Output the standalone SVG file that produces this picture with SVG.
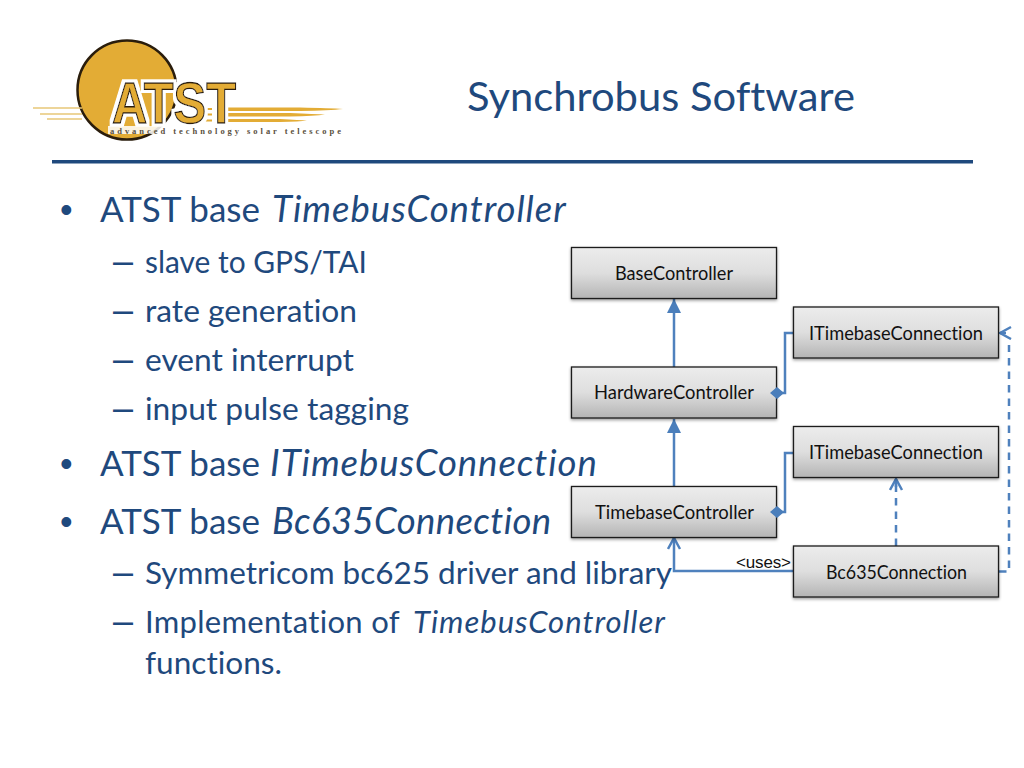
<svg xmlns="http://www.w3.org/2000/svg" width="1024" height="768" viewBox="0 0 1024 768">
<style>
text{font-family:Lato,"Liberation Sans",sans-serif;font-variant-ligatures:none;font-kerning:normal}
.b{font-size:35px;fill:#1f497d}
.i{font-size:36.500px;font-style:italic}
.s{font-size:31px;fill:#1f497d}
.m{font-family:"Liberation Sans",sans-serif;fill:#1f497d}
.n{font-size:18.300px;fill:#111;text-anchor:middle}
.box{fill:url(#g);stroke:#1c1c1c;stroke-width:1.3;filter:url(#sh)}
.c{fill:none;stroke:#4f81bd;stroke-width:2.500}
.d{stroke-dasharray:7.500 6}
.ray{fill:#e3ac35}
.ln{stroke:#e8c878;stroke-width:1.500}
</style>
<defs>
<linearGradient id="g" x1="0" y1="0" x2="0" y2="1"><stop offset="0" stop-color="#ececec"/><stop offset=".5" stop-color="#dedede"/><stop offset="1" stop-color="#b4b4b4"/></linearGradient>
<filter id="sh" x="-5%" y="-10%" width="110%" height="130%"><feDropShadow dx="0" dy="1.500" stdDeviation="1.500" flood-color="#000" flood-opacity=".4"/></filter>
<filter id="halo" x="-5%" y="-10%" width="110%" height="120%"><feMorphology in="SourceAlpha" operator="dilate" radius="2.500" result="a"/><feFlood flood-color="#fff"/><feComposite in2="a" operator="in"/><feMerge><feMergeNode/><feMergeNode in="SourceGraphic"/></feMerge></filter>
<marker id="tri" markerUnits="userSpaceOnUse" markerWidth="14" markerHeight="16" refX="14" refY="7" orient="auto"><path d="M0 0L14 7L0 14Z" fill="#4a7ebb"/></marker>
<marker id="open" markerUnits="userSpaceOnUse" markerWidth="14" markerHeight="16" refX="12" refY="7" orient="auto"><path d="M1 1L12 7L1 13" fill="none" stroke="#4f81bd" stroke-width="2.500"/></marker>
</defs>
<rect width="1024" height="768" fill="#fff"/>
<g id="logo">
<circle cx="127" cy="90" r="49.500" fill="#e3ac35" stroke="#2a1d0c" stroke-width="2.500"/>
<path d="M33 108H82M40 114H82M47 119H82" class="ln"/>
<path d="M228 107.500L300 107.500Q330 108 343 109Q330 110.500 300 111L228 111ZM228 113L290 113Q315 114 325 114.500Q315 116 290 116.500L228 116.500ZM228 119L280 119Q300 120 307 120.500Q300 121.500 280 122L228 122ZM205 108h7v2h-7ZM205 113.500h7v2h-7ZM205 119.500h7v2h-7Z" class="ray"/>
<rect x="108" y="126" width="60" height="8" fill="#fff" opacity=".85"/>
<text x="112" y="122.500" font-size="57" font-weight="700" textLength="124" lengthAdjust="spacingAndGlyphs" fill="#e3ac35" stroke="#2a1d0c" stroke-width="1.300" filter="url(#halo)" style="font-family:'Liberation Sans',sans-serif">ATST</text>
<text x="110" y="133.500" font-size="8.500" font-weight="700" textLength="231" style="font-family:'Liberation Serif',serif" fill="#5a5040">advanced technology solar telescope</text>
</g>
<text id="title" x="467" y="111" font-size="41.500" textLength="388" lengthAdjust="spacingAndGlyphs" fill="#1f497d">Synchrobus Software</text>
<rect id="rule" x="52" y="160" width="921" height="3.500" fill="#1f497d"/>
<g id="text">
<text x="60" y="222" class="m" font-size="36">•</text>
<text x="100" y="222" class="b">ATST base <tspan x="272" class="i" letter-spacing="1">TimebusController</tspan></text>
<text x="113" y="273" class="m" font-size="36">–</text><text x="145" y="273" class="s" textLength="222" lengthAdjust="spacingAndGlyphs">slave to GPS/TAI</text>
<text x="113" y="322" class="m" font-size="36">–</text><text x="145" y="322" class="s" textLength="212" lengthAdjust="spacingAndGlyphs">rate generation</text>
<text x="113" y="371" class="m" font-size="36">–</text><text x="145" y="371" class="s" textLength="209" lengthAdjust="spacingAndGlyphs">event interrupt</text>
<text x="113" y="420" class="m" font-size="36">–</text><text x="145" y="420" class="s" textLength="264" lengthAdjust="spacingAndGlyphs">input pulse tagging</text>
<text x="60" y="476" class="m" font-size="36">•</text>
<text x="100" y="476" class="b">ATST base <tspan x="270" class="i" letter-spacing=".95">ITimebusConnection</tspan></text>
<text x="60" y="534" class="m" font-size="36">•</text>
<text x="100" y="534" class="b">ATST base <tspan x="272" class="i" letter-spacing=".4">Bc635Connection</tspan></text>
<text x="113" y="584" class="m" font-size="36">–</text><text x="145" y="584" class="s" textLength="527" lengthAdjust="spacingAndGlyphs">Symmetricom bc625 driver and library</text>
<text x="113" y="633" class="m" font-size="36">–</text><text x="145" y="633" class="s" letter-spacing=".3">Implementation of <tspan x="413" font-style="italic" letter-spacing="1">TimebusController</tspan></text>
<text x="145" y="674" class="s" textLength="137" lengthAdjust="spacingAndGlyphs">functions.</text>
</g>
<g id="connectors">
<path class="c" d="M674 367V299" marker-end="url(#tri)"/>
<path class="c" d="M674 486V419" marker-end="url(#tri)"/>
<path class="c" d="M793 571H674V538" marker-end="url(#open)"/>
<path class="c" d="M793 333H785V393H777"/>
<path class="c" d="M793 453H785V512H777"/>
<path class="c d" d="M896 546V481"/>
<path class="c" d="M896 487V479" marker-end="url(#open)"/>
<path class="c d" d="M999 571.500H1009V345"/>
<path class="c" d="M1006 333H1000" marker-end="url(#open)"/>
<text x="736" y="568" font-size="17" textLength="55" style="font-family:'Liberation Sans',sans-serif" fill="#111">&lt;uses&gt;</text>
</g>
<g id="BaseController"><rect class="box" x="571.500" y="247.500" width="205" height="51"/><text class="n" x="674" y="280" textLength="118" lengthAdjust="spacingAndGlyphs">BaseController</text></g>
<g id="HardwareController"><rect class="box" x="571.500" y="367" width="205" height="51"/><text class="n" x="674" y="399" textLength="160" lengthAdjust="spacingAndGlyphs">HardwareController</text></g>
<g id="TimebaseController"><rect class="box" x="571.500" y="486.500" width="205" height="51"/><text class="n" x="674.500" y="519" textLength="159" lengthAdjust="spacingAndGlyphs">TimebaseController</text></g>
<g id="ITimebaseConnection1"><rect class="box" x="793.500" y="307" width="205" height="51"/><text class="n" x="896" y="340" textLength="174" lengthAdjust="spacingAndGlyphs">ITimebaseConnection</text></g>
<g id="ITimebaseConnection2"><rect class="box" x="793.500" y="426.500" width="205" height="51"/><text class="n" x="896" y="459" textLength="174" lengthAdjust="spacingAndGlyphs">ITimebaseConnection</text></g>
<g id="Bc635Connection"><rect class="box" x="793.500" y="546" width="205" height="51"/><text class="n" x="896.500" y="579" textLength="141" lengthAdjust="spacingAndGlyphs">Bc635Connection</text></g>
<path id="diamonds" d="M770 393L777 387L784 393L777 399ZM770 512L777 506L784 512L777 518Z" fill="#4a7ebb"/>
</svg>
